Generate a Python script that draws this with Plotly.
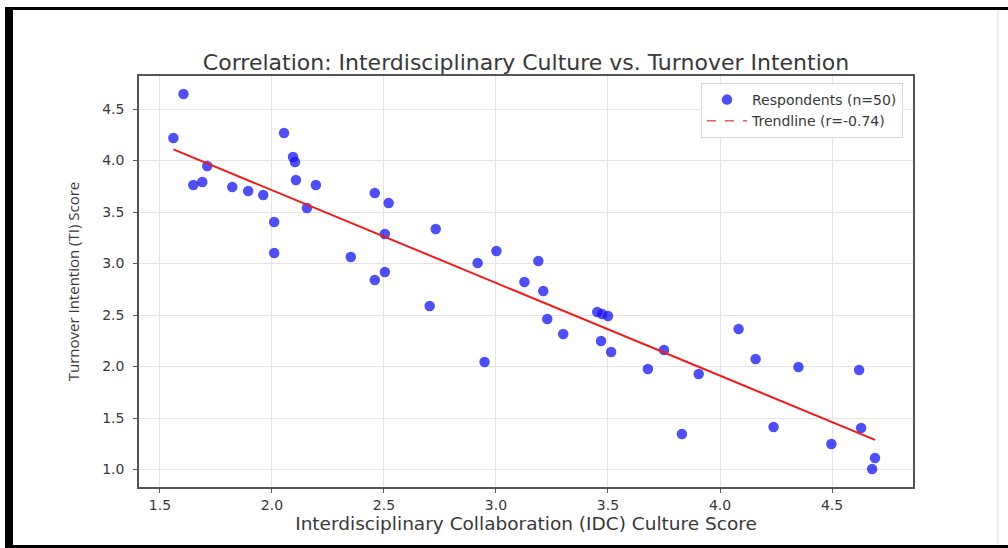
import numpy as np
import plotly.graph_objects as go

idc_score = [1.560, 1.605, 1.649, 1.689, 1.711, 1.823, 1.894, 1.961, 2.010, 2.010,
             2.054, 2.094, 2.103, 2.107, 2.156, 2.196, 2.352, 2.459, 2.459, 2.504,
             2.504, 2.521, 2.704, 2.731, 2.918, 2.949, 3.002, 3.127, 3.189, 3.211,
             3.229, 3.300, 3.452, 3.469, 3.474, 3.500, 3.514, 3.678, 3.750, 3.830,
             3.905, 4.083, 4.159, 4.239, 4.350, 4.497, 4.621, 4.630, 4.692, 4.679]
ti_score = [4.218, 4.646, 3.762, 3.791, 3.947, 3.743, 3.704, 3.665, 3.403, 3.102,
            4.267, 4.034, 3.985, 3.811, 3.539, 3.762, 3.063, 2.840, 3.684, 3.286,
            2.917, 3.587, 2.587, 3.335, 3.005, 2.044, 3.121, 2.820, 3.024, 2.733,
            2.461, 2.316, 2.529, 2.248, 2.510, 2.490, 2.141, 1.976, 2.160, 1.345,
            1.927, 2.364, 2.073, 1.413, 1.995, 1.248, 1.966, 1.403, 1.112, 1.005]

x_ticks = [1.5, 2.0, 2.5, 3.0, 3.5, 4.0, 4.5]
y_ticks = [1.0, 1.5, 2.0, 2.5, 3.0, 3.5, 4.0, 4.5]

title_text = "Correlation: Interdisciplinary Culture vs. Turnover Intention"
x_title = "Interdisciplinary Collaboration (IDC) Culture Score"
y_title = "Turnover Intention (TI) Score"
scatter_name = "Respondents (n=50)"
trend_name = "Trendline (r=-0.74)"

x = np.array(idc_score)
y = np.array(ti_score)
slope, intercept = np.polyfit(x, y, 1)
xs = np.array([x.min(), x.max()])
ys = slope * xs + intercept

wide_font = "DejaVu Sans, Verdana, sans-serif"
text_col = "#383838"

fig = go.Figure()
fig.add_trace(go.Scatter(
    x=idc_score, y=ti_score, mode="markers", name=scatter_name,
    marker=dict(size=10.5, color="rgba(20,20,240,0.75)", line=dict(width=0)),
))
fig.add_trace(go.Scatter(
    x=xs, y=ys, mode="lines", name=trend_name, showlegend=False,
    line=dict(color="#ee1c1c", width=2),
))
fig.add_trace(go.Scatter(
    x=[None], y=[None], mode="lines", name=trend_name,
    line=dict(color="rgba(235,60,60,0.85)", width=1.5, dash="dash"),
))

# pixel -> paper helpers for the outer frame
L, R, T, B = 139, 913, 76, 487
def px(v):
    return (v - L) / (R - L)
def py(v):
    return (B - v) / (B - T)

frame = [
    dict(x0=px(5), x1=px(13), y0=py(548), y1=py(7)),
    dict(x0=px(5), x1=px(1008), y0=py(10), y1=py(7)),
    dict(x0=px(5), x1=px(1008), y0=py(548), y1=py(545)),
]
shapes = []
for f in frame:
    shapes.append(dict(type="rect", xref="paper", yref="paper", line=dict(width=0),
                       fillcolor="black", layer="above", **f))
shapes.append(dict(type="line", xref="paper", yref="paper", x0=px(998), x1=px(998),
                   y0=py(545), y1=py(10), line=dict(color="#dddddd", width=1)))

axis_common = dict(
    showgrid=True, gridcolor="#e4e4e4", gridwidth=1,
    showline=True, linecolor="#555555", linewidth=1.5, mirror=True,
    ticks="outside", ticklen=4, tickcolor="#555555", tickwidth=1,
    tickfont=dict(family=wide_font, size=14, color=text_col),
    zeroline=False,
)

fig.update_layout(
    width=1008, height=548,
    margin=dict(l=L, r=1008 - R, t=T, b=548 - B),
    paper_bgcolor="white", plot_bgcolor="white",
    title=dict(text=title_text, x=(L + R) / 2 / 1008, xanchor="center",
               y=1 - 62 / 548, yanchor="middle", yref="container",
               font=dict(family=wide_font, size=22, color=text_col)),
    xaxis=dict(range=[1.4065, 4.8615], tickvals=x_ticks,
               ticktext=[f"{v:.1f}" for v in x_ticks],
               title=dict(text=x_title, standoff=5,
                          font=dict(family=wide_font, size=18.5, color=text_col)),
               **axis_common),
    yaxis=dict(range=[0.8301, 4.8204], tickvals=y_ticks,
               ticktext=[f"{v:.1f}" for v in y_ticks],
               ticklabelstandoff=6,
               title=dict(text=y_title, standoff=19,
                          font=dict(family="Open Sans, sans-serif",
                                    size=15, color=text_col)),
               **axis_common),
    legend=dict(x=px(903), xanchor="right", y=py(83), yanchor="top",
                bgcolor="rgba(255,255,255,0.9)", bordercolor="#d8d8d8", borderwidth=1,
                font=dict(family=wide_font, size=14, color=text_col),
                tracegroupgap=0, itemwidth=40),
    shapes=shapes,
    showlegend=True,
)

fig.write_html("out.html", post_script="document.body.style.margin='0';",
               config={"displayModeBar": False})
